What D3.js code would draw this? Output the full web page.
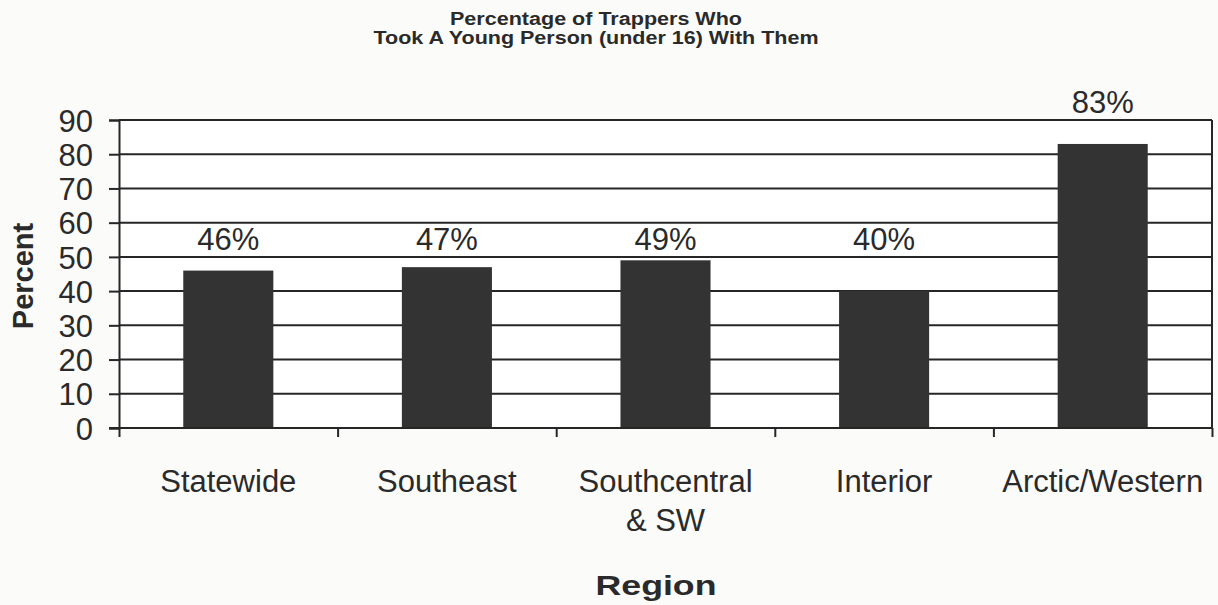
<!DOCTYPE html>
<html>
<head>
<meta charset="utf-8">
<script src="https://cdn.jsdelivr.net/npm/d3@7"></script>
<style>
  html, body { margin: 0; padding: 0; background: #fbfbfa; }
  svg { display: block; }
  text { font-family: "Liberation Sans", Arial, sans-serif; fill: #2a2a2a; }
</style>
</head>
<body>
<svg id="chart" width="1218" height="605"></svg>
<script>
const titleLines = ["Percentage of Trappers Who", "Took A Young Person (under 16) With Them"];
const categories = ["Statewide", "Southeast", "Southcentral\n& SW", "Interior", "Arctic/Western"];
const values = [46, 47, 49, 40, 83];
const yTicks = [0, 10, 20, 30, 40, 50, 60, 70, 80, 90];
const yAxisTitle = "Percent";
const xAxisTitle = "Region";

const W = 1218, H = 605;
const m = { left: 119, right: 1212, top: 120, bottom: 428 };
const ink = "#262626";
const svg = d3.select("#chart");

svg.append("rect").attr("x", 0).attr("y", 0).attr("width", W).attr("height", H).attr("fill", "#fbfbfa");

const x = d3.scaleBand().domain(categories).range([m.left, m.right]).paddingInner(0.588).paddingOuter(0.294);
const y = d3.scaleLinear().domain([0, 90]).range([m.bottom, m.top]);
const xEdges = d3.scaleLinear().domain([0, categories.length]).range([m.left, m.right]);

// plot area
svg.append("rect").attr("x", m.left).attr("y", m.top).attr("width", m.right - m.left).attr("height", m.bottom - m.top).attr("fill", "#ffffff");

// gridlines
svg.append("g").selectAll("line").data(yTicks).join("line")
  .attr("x1", m.left).attr("x2", m.right)
  .attr("y1", d => y(d)).attr("y2", d => y(d))
  .attr("stroke", ink).attr("stroke-width", 2);

// right border
svg.append("line").attr("x1", m.right).attr("x2", m.right).attr("y1", m.top).attr("y2", m.bottom)
  .attr("stroke", ink).attr("stroke-width", 2);

// bars
svg.append("g").selectAll("rect").data(values).join("rect")
  .attr("x", (d, i) => x(categories[i]))
  .attr("width", x.bandwidth())
  .attr("y", d => y(d))
  .attr("height", d => y(0) - y(d))
  .attr("fill", "#333333");

// y axis
const yAxis = svg.append("g").attr("transform", `translate(${m.left},0)`)
  .call(d3.axisLeft(y).tickValues(yTicks).tickSize(10).tickPadding(16).tickFormat(d3.format("d")));
yAxis.select(".domain").attr("stroke", ink).attr("stroke-width", 2);
yAxis.selectAll(".tick line").attr("stroke", ink).attr("stroke-width", 2);
yAxis.selectAll(".tick text").attr("font-size", 31).attr("fill", "#2a2a2a")
  .attr("font-family", "'Liberation Sans', Arial, sans-serif").attr("dy", "0.36em");

// x axis (edge ticks)
const xAxis = svg.append("g").attr("transform", `translate(0,${m.bottom})`)
  .call(d3.axisBottom(xEdges).tickValues(d3.range(categories.length + 1)).tickSize(9).tickFormat(""));
xAxis.select(".domain").attr("stroke", ink).attr("stroke-width", 2).attr("d", `M${m.left - 10},0H${m.right}`);
xAxis.selectAll(".tick line").attr("stroke", ink).attr("stroke-width", 2);

// category labels
const catG = svg.append("g");
categories.forEach((c, i) => {
  const t = catG.append("text").attr("text-anchor", "middle").attr("font-size", 31)
    .attr("x", x(c) + x.bandwidth() / 2).attr("y", 492);
  c.split("\n").forEach((line, j) => {
    t.append("tspan").attr("x", x(c) + x.bandwidth() / 2).attr("dy", j === 0 ? 0 : 39).text(line);
  });
});

// data labels
svg.append("g").selectAll("text").data(values).join("text")
  .attr("text-anchor", "middle").attr("font-size", 31)
  .attr("x", (d, i) => x(categories[i]) + x.bandwidth() / 2)
  .attr("y", d => d > 60 ? y(d) - 31 : y(52))
  .text(d => d + "%");

// axis titles
svg.append("text").attr("transform", "translate(33,276) rotate(-90)")
  .attr("text-anchor", "middle").attr("font-size", 29).attr("font-weight", "bold").text(yAxisTitle);
svg.append("text").attr("x", 656).attr("y", 595).attr("text-anchor", "middle")
  .attr("font-size", 28).attr("font-weight", "bold")
  .attr("textLength", 121).attr("lengthAdjust", "spacingAndGlyphs").text(xAxisTitle);

// title
const tl = [292, 445], tb = [25, 44];
titleLines.forEach((t, i) => {
  svg.append("text").attr("x", 596).attr("y", tb[i]).attr("text-anchor", "middle")
    .attr("font-size", 17.5).attr("font-weight", "bold")
    .attr("textLength", tl[i]).attr("lengthAdjust", "spacingAndGlyphs").text(t);
});
</script>
</body>
</html>
